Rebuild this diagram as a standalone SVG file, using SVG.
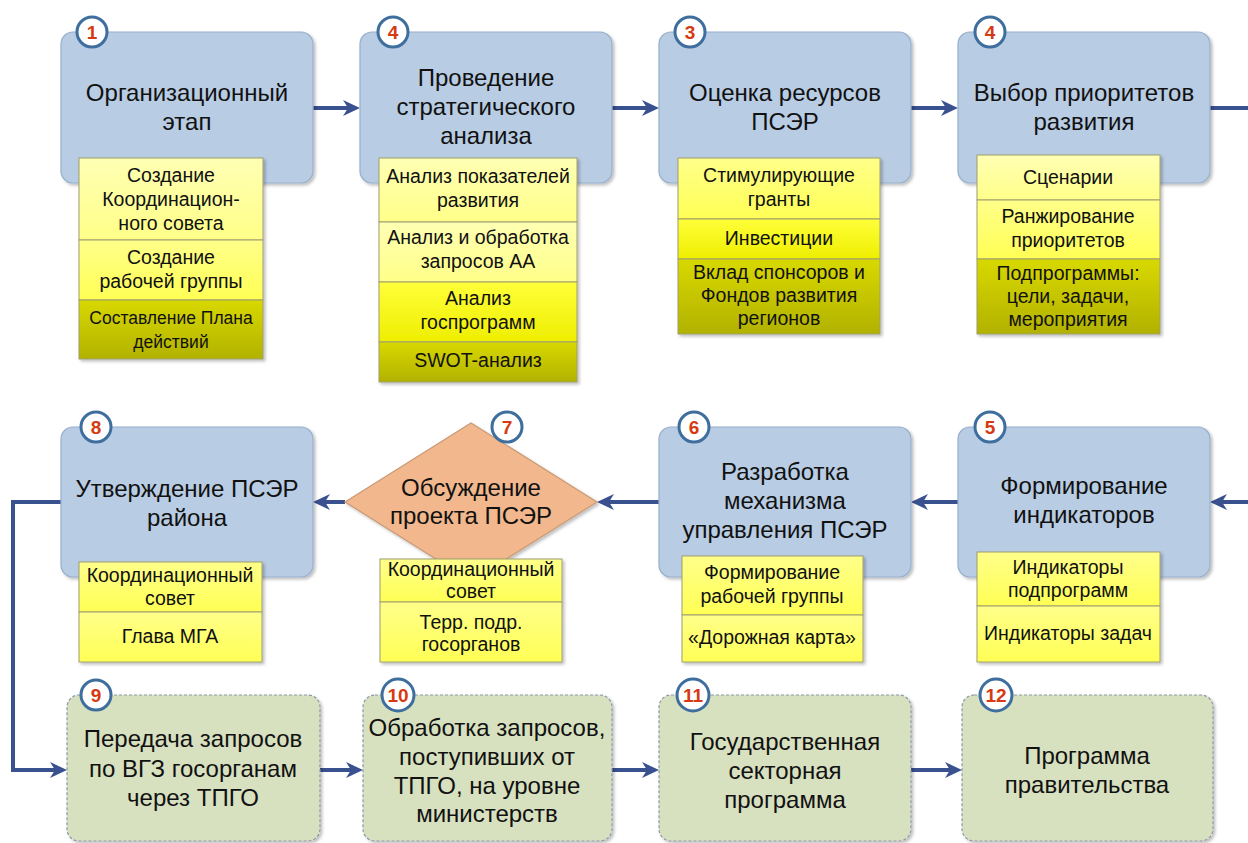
<svg xmlns="http://www.w3.org/2000/svg" width="1248" height="843" viewBox="0 0 1248 843">
<defs>
<style>
text{font-family:"Liberation Sans",Arial,sans-serif;fill:#111;text-anchor:middle}
.main{font-size:24px}
.sub{font-size:19.5px}
.small{font-size:17.5px}
.box{fill:#B8CCE4;stroke:#97AFCC;stroke-width:1.2;filter:url(#sh)}
.gbox{fill:#D7E0BF;stroke:#8C98A8;stroke-width:1.2;stroke-dasharray:3 2;filter:url(#sh)}
.dia{fill:#F2B78C;stroke:#C99A76;stroke-width:1.2;filter:url(#sh)}
.cell{stroke:#9E9E70;stroke-width:1}
.tbl{fill:none;stroke:#8E8E60;stroke-width:1.2;filter:url(#sh)}
.badge circle{fill:#fff;stroke:#3E6E9E;stroke-width:3}
.badge text{font-size:19px;font-weight:bold;fill:#D63A12}
.con{fill:none;stroke:#3A5190;stroke-width:4}
.arr{marker-end:url(#ah)}
.l1{fill:url(#gL)}.l2{fill:url(#gM)}.l3{fill:url(#gB)}.l4{fill:url(#gO)}
</style>
<filter id="sh" x="-10%" y="-10%" width="125%" height="125%">
<feDropShadow dx="2" dy="2" stdDeviation="1.8" flood-color="#000" flood-opacity="0.25"/>
</filter>
<linearGradient id="gL" x1="0" y1="0" x2="0" y2="1"><stop offset="0" stop-color="#FFFFB4"/><stop offset="1" stop-color="#FFFF88"/></linearGradient>
<linearGradient id="gM" x1="0" y1="0" x2="0" y2="1"><stop offset="0" stop-color="#FFFF8A"/><stop offset="1" stop-color="#FFFF55"/></linearGradient>
<linearGradient id="gB" x1="0" y1="0" x2="0" y2="1"><stop offset="0" stop-color="#FFFF3A"/><stop offset="1" stop-color="#EEEE00"/></linearGradient>
<linearGradient id="gO" x1="0" y1="0" x2="0" y2="1"><stop offset="0" stop-color="#D8D800"/><stop offset="1" stop-color="#B2B200"/></linearGradient>
<marker id="ah" markerUnits="userSpaceOnUse" viewBox="0 0 18 18" markerWidth="18" markerHeight="18" refX="5" refY="9" orient="auto">
<path d="M0,1 L17,9 L0,17 L5,9 z" fill="#3A5190"/>
</marker>
</defs>
<rect width="1248" height="843" fill="#fff"/>

<g id="connectors">
<line class="con arr" x1="313" y1="108" x2="348" y2="108"/>
<line class="con arr" x1="612" y1="108" x2="647" y2="108"/>
<line class="con arr" x1="911" y1="108" x2="946" y2="108"/>
<line class="con" x1="1210" y1="108" x2="1250" y2="108"/>
<line class="con arr" x1="1250" y1="502" x2="1222" y2="502"/>
<line class="con arr" x1="958" y1="502" x2="923" y2="502"/>
<line class="con arr" x1="659" y1="502" x2="609" y2="502"/>
<line class="con arr" x1="345" y1="502" x2="325" y2="502"/>
<path class="con arr" d="M61,502 H13 V770 H55"/>
<line class="con arr" x1="320" y1="770" x2="351" y2="770"/>
<line class="con arr" x1="612" y1="770" x2="647" y2="770"/>
<line class="con arr" x1="911" y1="770" x2="950" y2="770"/>
</g>

<g id="n1">
<rect class="box" x="61" y="32" width="252" height="151" rx="12"/>
<text class="main" x="187" y="101">Организационный</text>
<text class="main" x="187" y="130">этап</text>
<g filter="url(#sh)"><rect class="cell l1" x="79" y="158" width="184" height="82"/><rect class="cell l2" x="79" y="240" width="184" height="60"/><rect class="cell l4" x="79" y="300" width="184" height="59"/></g>
<text class="sub" x="171" y="182">Создание</text>
<text class="sub" x="171" y="206">Координацион-</text>
<text class="sub" x="171" y="230">ного совета</text>
<text class="sub" x="171" y="264">Создание</text>
<text class="sub" x="171" y="288">рабочей группы</text>
<text class="small" x="171" y="324">Составление Плана</text>
<text class="small" x="171" y="348">действий</text>
<g class="badge"><circle cx="92" cy="32" r="15"/><text x="92" y="39">1</text></g>
</g>

<g id="n2">
<rect class="box" x="360" y="32" width="252" height="151" rx="12"/>
<text class="main" x="486" y="86">Проведение</text>
<text class="main" x="486" y="115">стратегического</text>
<text class="main" x="486" y="144">анализа</text>
<g filter="url(#sh)"><rect class="cell l1" x="379" y="158" width="198" height="64"/><rect class="cell l1" x="379" y="222" width="198" height="60"/><rect class="cell l3" x="379" y="282" width="198" height="60"/><rect class="cell l4" x="379" y="342" width="198" height="40"/></g>
<text class="sub" x="478" y="183">Анализ показателей</text>
<text class="sub" x="478" y="207">развития</text>
<text class="sub" x="478" y="244">Анализ и обработка</text>
<text class="sub" x="478" y="268">запросов АА</text>
<text class="sub" x="478" y="305">Анализ</text>
<text class="sub" x="478" y="329">госпрограмм</text>
<text class="sub" x="478" y="367">SWOT-анализ</text>
<g class="badge"><circle cx="393" cy="32" r="15"/><text x="393" y="39">4</text></g>
</g>

<g id="n3">
<rect class="box" x="659" y="32" width="252" height="151" rx="12"/>
<text class="main" x="785" y="101">Оценка ресурсов</text>
<text class="main" x="785" y="130">ПСЭР</text>
<g filter="url(#sh)"><rect class="cell l2" x="678" y="158" width="202" height="61"/><rect class="cell l3" x="678" y="219" width="202" height="40"/><rect class="cell l4" x="678" y="259" width="202" height="75"/></g>
<text class="sub" x="779" y="182">Стимулирующие</text>
<text class="sub" x="779" y="206">гранты</text>
<text class="sub" x="779" y="245">Инвестиции</text>
<text class="sub" x="779" y="279">Вклад спонсоров и</text>
<text class="sub" x="779" y="302">Фондов развития</text>
<text class="sub" x="779" y="325">регионов</text>
<g class="badge"><circle cx="690" cy="32" r="15"/><text x="690" y="39">3</text></g>
</g>

<g id="n4">
<rect class="box" x="958" y="32" width="252" height="151" rx="12"/>
<text class="main" x="1084" y="101">Выбор приоритетов</text>
<text class="main" x="1084" y="130">развития</text>
<g filter="url(#sh)"><rect class="cell l1" x="977" y="155" width="183" height="45"/><rect class="cell l2" x="977" y="200" width="183" height="59"/><rect class="cell l4" x="977" y="259" width="183" height="75"/></g>
<text class="sub" x="1068" y="184">Сценарии</text>
<text class="sub" x="1068" y="223">Ранжирование</text>
<text class="sub" x="1068" y="247">приоритетов</text>
<text class="sub" x="1068" y="280">Подпрограммы:</text>
<text class="sub" x="1068" y="303">цели, задачи,</text>
<text class="sub" x="1068" y="326">мероприятия</text>
<g class="badge"><circle cx="990" cy="32" r="15"/><text x="990" y="39">4</text></g>
</g>

<g id="n5">
<rect class="box" x="958" y="427" width="252" height="150" rx="12"/>
<text class="main" x="1084" y="494">Формирование</text>
<text class="main" x="1084" y="523">индикаторов</text>
<g filter="url(#sh)"><rect class="cell l2" x="977" y="552" width="183" height="54"/><rect class="cell l2" x="977" y="606" width="183" height="56"/></g>
<text class="sub" x="1068" y="574">Индикаторы</text>
<text class="sub" x="1068" y="597">подпрограмм</text>
<text class="sub" x="1068" y="640">Индикаторы задач</text>
<g class="badge"><circle cx="990" cy="427" r="15"/><text x="990" y="434">5</text></g>
</g>

<g id="n6">
<rect class="box" x="659" y="427" width="252" height="150" rx="12"/>
<text class="main" x="785" y="480">Разработка</text>
<text class="main" x="785" y="509">механизма</text>
<text class="main" x="785" y="538">управления ПСЭР</text>
<g filter="url(#sh)"><rect class="cell l2" x="682" y="556" width="181" height="59"/><rect class="cell l2" x="682" y="615" width="181" height="47"/></g>
<text class="sub" x="772" y="579">Формирование</text>
<text class="sub" x="772" y="603">рабочей группы</text>
<text class="sub" x="772" y="644">«Дорожная карта»</text>
<g class="badge"><circle cx="694" cy="427" r="15"/><text x="694" y="434">6</text></g>
</g>

<g id="n7">
<polygon class="dia" points="345,502 471,423 597,502 471,581"/>
<text class="main" x="471" y="496">Обсуждение</text>
<text class="main" x="471" y="524">проекта ПСЭР</text>
<g filter="url(#sh)"><rect class="cell l2" x="380" y="559" width="182" height="43"/><rect class="cell l2" x="380" y="602" width="182" height="60"/></g>
<text class="sub" x="471" y="576">Координационный</text>
<text class="sub" x="471" y="598">совет</text>
<text class="sub" x="471" y="629">Терр. подр.</text>
<text class="sub" x="471" y="651">госорганов</text>
<g class="badge"><circle cx="507" cy="427" r="15"/><text x="507" y="434">7</text></g>
</g>

<g id="n8">
<rect class="box" x="61" y="427" width="252" height="150" rx="12"/>
<text class="main" x="187" y="497">Утверждение ПСЭР</text>
<text class="main" x="187" y="526">района</text>
<g filter="url(#sh)"><rect class="cell l2" x="79" y="562" width="183" height="50"/><rect class="cell l2" x="79" y="612" width="183" height="50"/></g>
<text class="sub" x="170" y="582">Координационный</text>
<text class="sub" x="170" y="605">совет</text>
<text class="sub" x="170" y="643">Глава МГА</text>
<g class="badge"><circle cx="96" cy="427" r="15"/><text x="96" y="434">8</text></g>
</g>

<g id="n9">
<rect class="gbox" x="67" y="695" width="253" height="146" rx="12"/>
<text class="main" x="193" y="747">Передача запросов</text>
<text class="main" x="193" y="777">по ВГЗ госорганам</text>
<text class="main" x="193" y="806">через ТПГО</text>
<g class="badge"><circle cx="96" cy="695" r="15"/><text x="96" y="702">9</text></g>
</g>

<g id="n10">
<rect class="gbox" x="363" y="695" width="249" height="146" rx="12"/>
<text class="main" x="487" y="736">Обработка запросов,</text>
<text class="main" x="487" y="765">поступивших от</text>
<text class="main" x="487" y="794">ТПГО, на уровне</text>
<text class="main" x="487" y="822">министерств</text>
<g class="badge"><circle cx="398" cy="695" r="16"/><text x="398" y="702">10</text></g>
</g>

<g id="n11">
<rect class="gbox" x="659" y="695" width="252" height="146" rx="12"/>
<text class="main" x="785" y="750">Государственная</text>
<text class="main" x="785" y="779">секторная</text>
<text class="main" x="785" y="808">программа</text>
<g class="badge"><circle cx="693" cy="695" r="16"/><text x="693" y="702">11</text></g>
</g>

<g id="n12">
<rect class="gbox" x="962" y="695" width="251" height="146" rx="12"/>
<text class="main" x="1087" y="764">Программа</text>
<text class="main" x="1087" y="793">правительства</text>
<g class="badge"><circle cx="996" cy="695" r="16"/><text x="996" y="702">12</text></g>
</g>
</svg>
